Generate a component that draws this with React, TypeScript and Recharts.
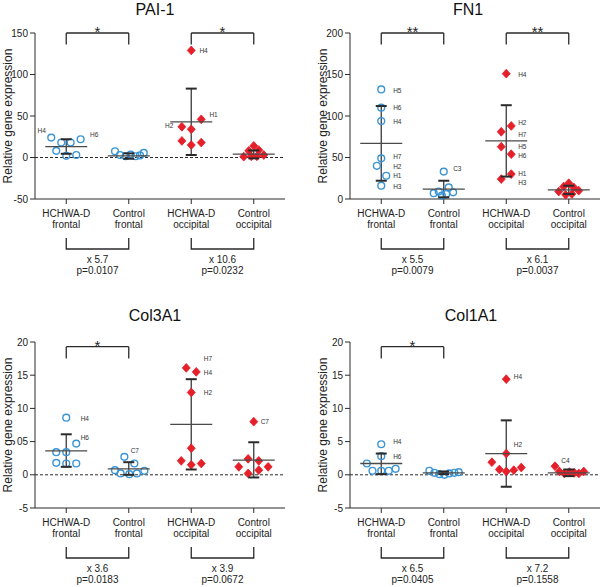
import React from 'react';
import { ScatterChart, Scatter, XAxis, YAxis, ReferenceLine, ErrorBar } from 'recharts';

const categories = [
  ['HCHWA-D', 'frontal'],
  ['Control', 'frontal'],
  ['HCHWA-D', 'occipital'],
  ['Control', 'occipital'],
];

// PAI-1
const pai1Values = [
  [24, 18, 18, 22, 8, 2, 3],
  [7.5, 3, 1.5, 3.5, 1.5, 2.5, 5.5],
  [129, 46, 37, 34, 20, 15, 18],
  [14, 8, 9, 1, 3, 1.5, 1.5],
];
const pai1Jitter = [
  [-0.24, -0.08, 0.07, 0.23, -0.16, 0, 0.16],
  [-0.22, -0.14, -0.05, 0.03, 0.11, 0.18, 0.24],
  [0, 0.16, -0.15, 0, -0.15, 0, 0.16],
  [0, -0.08, 0.08, -0.16, 0.16, -0.04, 0.05],
];
const pai1Mean = [13, 2, 43, 4];
const pai1Hi = [22, 5, 83, 8.5];
const pai1Lo = [4.5, -1.5, 3, -1];
const pai1Labels = [
  { g: 0, dx: -0.46, y: 32, text: 'H4' },
  { g: 0, dx: 0.38, y: 28, text: 'H6' },
  { g: 2, dx: 0.13, y: 129, text: 'H4' },
  { g: 2, dx: 0.29, y: 52, text: 'H1' },
  { g: 2, dx: -0.42, y: 38, text: 'H2' },
];
const pai1Sig = [{ from: 0, to: 1, mark: '*' }, { from: 2, to: 3, mark: '*' }];
const pai1Fold = ['x 5.7', 'x 10.6'];
const pai1P = ['p=0.0107', 'p=0.0232'];

// FN1
const fn1Values = [
  [132, 110, 94, 49, 40, 28, 16],
  [33, 7, 9, 14, 8, 6, 4],
  [151, 88, 81, 63, 54, 30, 24],
  [19, 15, 14, 9, 10, 5, 6],
];
const fn1Jitter = [
  [0, 0, 0, 0, -0.07, 0.08, 0],
  [0, -0.16, -0.08, 0.08, 0.15, 0.04, -0.03],
  [0, 0.08, -0.08, -0.08, 0.08, 0.08, -0.08],
  [0, -0.08, 0.08, -0.16, 0.16, -0.05, 0.05],
];
const fn1Mean = [67, 12, 70, 11];
const fn1Hi = [112, 22, 113, 16];
const fn1Lo = [22, 2, 27, 6];
const fn1Labels = [
  { g: 0, dx: 0.19, y: 131, text: 'H5' },
  { g: 0, dx: 0.19, y: 110, text: 'H6' },
  { g: 0, dx: 0.19, y: 93, text: 'H4' },
  { g: 0, dx: 0.19, y: 51, text: 'H7' },
  { g: 0, dx: 0.19, y: 39, text: 'H2' },
  { g: 0, dx: 0.19, y: 28, text: 'H1' },
  { g: 0, dx: 0.19, y: 15, text: 'H3' },
  { g: 1, dx: 0.15, y: 36, text: 'C3' },
  { g: 2, dx: 0.19, y: 150, text: 'H4' },
  { g: 2, dx: 0.19, y: 92, text: 'H2' },
  { g: 2, dx: 0.19, y: 78, text: 'H7' },
  { g: 2, dx: 0.19, y: 63, text: 'H5' },
  { g: 2, dx: 0.19, y: 52, text: 'H6' },
  { g: 2, dx: 0.19, y: 30, text: 'H1' },
  { g: 2, dx: 0.19, y: 20, text: 'H3' },
];
const fn1Sig = [{ from: 0, to: 1, mark: '**' }, { from: 2, to: 3, mark: '**' }];
const fn1Fold = ['x 5.5', 'x 6.1'];
const fn1P = ['p=0.0079', 'p=0.0037'];

// Col3A1
const col3Values = [
  [8.6, 4.7, 3.4, 3.4, 1.8, 1.7, 1.7],
  [2.7, 1.7, 0.7, 0.2, 0.1, 0.2, 0.6],
  [16.1, 15.5, 12.4, 4.0, 2.1, 1.5, 1.7],
  [8.0, 2.4, 2.1, 1.2, 1.2, 0.7, 0.2],
];
const col3Jitter = [
  [0, 0.16, -0.16, 0, -0.16, 0, 0.16],
  [-0.07, 0.09, -0.22, -0.13, 0.01, 0.13, 0.25],
  [-0.08, 0.08, 0, 0, -0.16, 0, 0.16],
  [0, -0.09, 0.08, -0.24, 0.23, 0.08, -0.09],
];
const col3Mean = [3.6, 0.9, 7.6, 2.2];
const col3Hi = [6.1, 1.9, 14.4, 4.9];
const col3Lo = [1.2, 0, 0.8, -0.4];
const col3Labels = [
  { g: 0, dx: 0.23, y: 8.4, text: 'H4' },
  { g: 0, dx: 0.23, y: 5.6, text: 'H6' },
  { g: 1, dx: 0.03, y: 3.7, text: 'C7' },
  { g: 2, dx: 0.2, y: 17.5, text: 'H7' },
  { g: 2, dx: 0.2, y: 15.4, text: 'H4' },
  { g: 2, dx: 0.2, y: 12.4, text: 'H2' },
  { g: 3, dx: 0.11, y: 8.0, text: 'C7' },
];
const col3Sig = [{ from: 0, to: 1, mark: '*' }];
const col3Fold = ['x 3.6', 'x 3.9'];
const col3P = ['p=0.0183', 'p=0.0672'];
const col3TickText = ['-5', '0', '05', '10', '15', '20'];

// Col1A1
const col1Values = [
  [4.6, 2.8, 1.7, 0.6, 0.6, 0.6, 0.9],
  [0.6, 0.3, 0.1, 0.0, 0.2, 0.3, 0.4],
  [14.4, 3.2, 1.9, 0.8, 0.5, 0.7, 1.1],
  [1.3, 0.5, 0.4, 0.2, 0.3, 0.5, 0.2],
];
const col1Jitter = [
  [0, 0, -0.23, -0.14, 0, 0.12, 0.23],
  [-0.23, -0.15, -0.07, 0.01, 0.09, 0.17, 0.24],
  [0, 0, -0.23, -0.11, 0, 0.12, 0.24],
  [-0.22, -0.15, 0.01, -0.07, 0.09, 0.24, 0.16],
];
const col1Mean = [1.7, 0.3, 3.2, 0.3];
const col1Hi = [3.2, 0.5, 8.2, 0.8];
const col1Lo = [0.1, 0.1, -1.8, -0.2];
const col1Labels = [
  { g: 0, dx: 0.19, y: 5.0, text: 'H4' },
  { g: 0, dx: 0.19, y: 2.7, text: 'H6' },
  { g: 2, dx: 0.12, y: 14.8, text: 'H4' },
  { g: 2, dx: 0.12, y: 4.5, text: 'H2' },
  { g: 3, dx: -0.12, y: 2.1, text: 'C4' },
];
const col1Sig = [{ from: 0, to: 1, mark: '*' }];
const col1Fold = ['x 6.5', 'x 7.2'];
const col1P = ['p=0.0405', 'p=0.1558'];
const col1TickText = ['-5', '0', '5', '10', '15', '20'];

const BLUE = '#3a95d6';
const RED = '#e5202a';
const INK = '#2a2a2a';
const PLOT_W = 250;
const STEP = PLOT_W / 4;

const circleShape = (p: any) => (
  <circle cx={p.cx} cy={p.cy} r={3.4} fill="none" stroke={BLUE} strokeWidth={1.4} />
);
const diamondShape = (p: any) => (
  <polygon
    points={`${p.cx},${p.cy - 4.4} ${p.cx + 4},${p.cy} ${p.cx},${p.cy + 4.4} ${p.cx - 4},${p.cy}`}
    fill={RED}
    stroke={RED}
    strokeWidth={0.8}
    strokeLinejoin="round"
  />
);
const meanShape = (p: any) => (
  <line x1={p.cx - 21} x2={p.cx + 21} y1={p.cy} y2={p.cy} stroke="#4a4a4a" strokeWidth={1.3} />
);
const capShape = (p: any) => (
  <line x1={p.cx - 5.5} x2={p.cx + 5.5} y1={p.cy} y2={p.cy} stroke={INK} strokeWidth={2} />
);
const labelShape = (p: any) => (
  <text x={p.cx} y={p.cy} dy="0.35em" fontSize={6.5} fill="#333">
    {p.payload.text}
  </text>
);

function CategoryTick(props: any) {
  const { x, y, payload, fold, pv } = props;
  const i = payload.value;
  const pair = i % 2 === 0 ? i / 2 : -1;
  return (
    <g>
      <text x={x} y={y} textAnchor="middle" fontSize={10} fill="#222">
        <tspan x={x} dy={10.5}>{categories[i][0]}</tspan>
        <tspan x={x} dy={11.5}>{categories[i][1]}</tspan>
      </text>
      {pair >= 0 && (
        <g>
          <path
            d={`M${x},${y + 32}V${y + 43}H${x + STEP}V${y + 32}`}
            fill="none"
            stroke={INK}
            strokeWidth={1.3}
          />
          <text x={x + STEP / 2} y={y + 57} textAnchor="middle" fontSize={10} fill="#222">
            {fold[pair]}
          </text>
          <text x={x + STEP / 2} y={y + 68} textAnchor="middle" fontSize={10} fill="#222">
            {pv[pair]}
          </text>
        </g>
      )}
    </g>
  );
}

function Panel(props: any) {
  const { title, left, top, titleX, titleY, axisX, yDomain, yTicks, tickText, values, jitter, mean, hi, lo, labels, sig, sigTop, sigDrop, fold, pv } = props;
  const frontal: any[] = [];
  const occipital: any[] = [];
  values.forEach((arr: number[], g: number) =>
    arr.forEach((v, i) => (g < 2 ? frontal : occipital).push({ x: g + jitter[g][i], y: v }))
  );
  const summary = mean.map((m: number, g: number) => ({ x: g, y: m, err: [m - lo[g], hi[g] - m] }));
  const caps = [...hi.map((v: number, g: number) => ({ x: g, y: v })), ...lo.map((v: number, g: number) => ({ x: g, y: v }))];
  const labelData = labels.map((l: any) => ({ x: l.g + l.dx, y: l.y, text: l.text }));

  const brackets: any[] = [];
  sig.forEach((s: any, k: number) => {
    brackets.push(
      <ReferenceLine
        key={`h${k}`}
        segment={[{ x: s.from, y: sigTop }, { x: s.to, y: sigTop }]}
        stroke={INK}
        strokeWidth={1.3}
        ifOverflow="visible"
        label={{ value: s.mark, position: 'center', dy: -1, fontSize: 15, fill: '#222' }}
      />,
      <ReferenceLine key={`a${k}`} segment={[{ x: s.from, y: sigTop }, { x: s.from, y: sigDrop }]} stroke={INK} strokeWidth={1.3} ifOverflow="visible" />,
      <ReferenceLine key={`b${k}`} segment={[{ x: s.to, y: sigTop }, { x: s.to, y: sigDrop }]} stroke={INK} strokeWidth={1.3} ifOverflow="visible" />
    );
  });

  return (
    <div style={{ position: 'absolute', left, top, width: 300, height: 280 }}>
      <div
        style={{
          position: 'absolute',
          left: titleX - left - 100,
          top: titleY - top - 8,
          width: 200,
          textAlign: 'center',
          fontSize: 16,
          lineHeight: '16px',
          color: '#111',
        }}
      >
        {title}
      </div>
      <ScatterChart
        width={300}
        height={280}
        margin={{ top: 33, right: 300 - axisX - PLOT_W, bottom: 0, left: axisX - 30 }}
      >
        <XAxis
          type="number"
          dataKey="x"
          domain={[-0.5, 3.5]}
          ticks={[0, 1, 2, 3]}
          interval={0}
          height={81}
          tickSize={5}
          axisLine={{ stroke: INK }}
          tickLine={{ stroke: INK }}
          tick={(p: any) => <CategoryTick {...p} fold={fold} pv={pv} />}
        />
        <YAxis
          type="number"
          dataKey="y"
          domain={yDomain}
          ticks={yTicks}
          interval={0}
          width={30}
          tickSize={5}
          axisLine={{ stroke: INK }}
          tickLine={{ stroke: INK }}
          tick={{ fontSize: 10, fill: '#222' }}
          tickFormatter={(v: number) => (tickText ? tickText[yTicks.indexOf(v)] : String(v))}
          label={{
            value: 'Relative gene expression',
            angle: -90,
            position: 'insideLeft',
            offset: 3,
            style: { textAnchor: 'middle' },
            fontSize: 12,
            fill: '#222',
          }}
        />
        {yDomain[0] < 0 && <ReferenceLine y={0} stroke={INK} strokeDasharray="3 2" />}
        {brackets}
        <Scatter data={frontal} shape={circleShape} isAnimationActive={false} />
        <Scatter data={occipital} shape={diamondShape} isAnimationActive={false} />
        <Scatter data={summary} shape={meanShape} isAnimationActive={false}>
          <ErrorBar dataKey="err" direction="y" width={0} stroke="#3a3a3a" strokeWidth={1.3} isAnimationActive={false} />
        </Scatter>
        <Scatter data={caps} shape={capShape} isAnimationActive={false} />
        <Scatter data={labelData} shape={labelShape} isAnimationActive={false} />
      </ScatterChart>
    </div>
  );
}

export default function App() {
  return (
    <div
      style={{
        position: 'absolute',
        left: 0,
        top: 0,
        width: 600,
        height: 587,
        background: '#fff',
        fontFamily: '"Liberation Sans", Arial, sans-serif',
      }}
    >
      <Panel
        title="PAI-1" left={0} top={0} titleX={155} titleY={10} axisX={35}
        yDomain={[-50, 150]} yTicks={[-50, 0, 50, 100, 150]}
        values={pai1Values} jitter={pai1Jitter} mean={pai1Mean} hi={pai1Hi} lo={pai1Lo}
        labels={pai1Labels} sig={pai1Sig} sigTop={150} sigDrop={136} fold={pai1Fold} pv={pai1P}
      />
      <Panel
        title="FN1" left={300} top={0} titleX={468} titleY={10} axisX={50}
        yDomain={[0, 200]} yTicks={[0, 50, 100, 150, 200]}
        values={fn1Values} jitter={fn1Jitter} mean={fn1Mean} hi={fn1Hi} lo={fn1Lo}
        labels={fn1Labels} sig={fn1Sig} sigTop={200} sigDrop={186} fold={fn1Fold} pv={fn1P}
      />
      <Panel
        title="Col3A1" left={0} top={309} titleX={155} titleY={316} axisX={35}
        yDomain={[-5, 20]} yTicks={[-5, 0, 5, 10, 15, 20]} tickText={col3TickText}
        values={col3Values} jitter={col3Jitter} mean={col3Mean} hi={col3Hi} lo={col3Lo}
        labels={col3Labels} sig={col3Sig} sigTop={19.3} sigDrop={17.5} fold={col3Fold} pv={col3P}
      />
      <Panel
        title="Col1A1" left={300} top={309} titleX={471} titleY={316} axisX={50}
        yDomain={[-5, 20]} yTicks={[-5, 0, 5, 10, 15, 20]} tickText={col1TickText}
        values={col1Values} jitter={col1Jitter} mean={col1Mean} hi={col1Hi} lo={col1Lo}
        labels={col1Labels} sig={col1Sig} sigTop={19.3} sigDrop={17.5} fold={col1Fold} pv={col1P}
      />
    </div>
  );
}
